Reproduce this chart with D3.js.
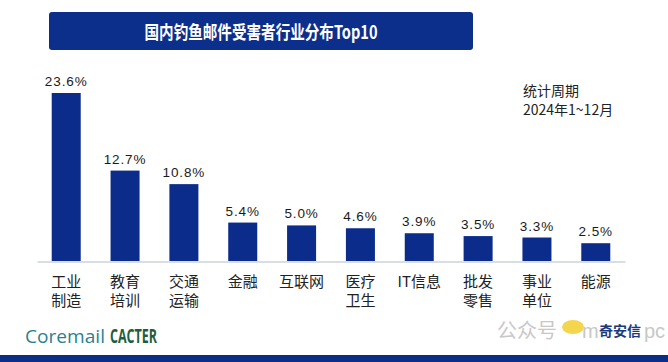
<!DOCTYPE html>
<html><head><meta charset="utf-8">
<script src="https://cdn.jsdelivr.net/npm/d3@7/dist/d3.min.js"></script>
<style>
body{margin:0;background:#fff;}
svg{display:block;}
</style></head>
<body>
<svg id="c" width="668" height="362"></svg>
<script>
const categories = [["工业","制造"],["教育","培训"],["交通","运输"],["金融"],["互联网"],["医疗","卫生"],["IT信息"],["批发","零售"],["事业","单位"],["能源"]];
const values = [23.6, 12.7, 10.8, 5.4, 5.0, 4.6, 3.9, 3.5, 3.3, 2.5];
const valueLabels = ["23.6%","12.7%","10.8%","5.4%","5.0%","4.6%","3.9%","3.5%","3.3%","2.5%"];
const titleText = "国内钓鱼邮件受害者行业分布Top10";
const noteLines = ["统计周期","2024年1~12月"];

const svg = d3.select("#c");
const cjk = "'Noto Sans CJK SC','Noto Sans',sans-serif";
const blue = "#0c2c8c";

// title bar
svg.append("rect").attr("x",49).attr("y",12).attr("width",424).attr("height",38).attr("rx",3).attr("fill","#0d2f8c");
svg.append("text").attr("transform","translate(261,38.5) scale(1,1.18)").attr("text-anchor","middle")
  .attr("fill","#fff").attr("font-family",cjk).attr("font-weight","bold").attr("font-size",15.5)
  .attr("textLength",233).attr("lengthAdjust","spacingAndGlyphs")
  .text(titleText);

const idx = values.map((d,i)=>i);
const x = d3.scaleBand().domain(idx).range([37,625]).paddingInner(0.507).paddingOuter(0.25);
const y = d3.scaleLinear().domain([0,23.6]).range([261,93]);

const g = svg.append("g");
g.selectAll("rect.bar").data(values).join("rect").attr("class","bar")
  .attr("x",(d,i)=>x(i)).attr("width",x.bandwidth())
  .attr("y",d=>y(d)).attr("height",d=>y(0)-y(d)).attr("fill",blue);

// axis line
const ax = g.append("g").attr("transform",`translate(0,${y(0)+0.5})`).call(d3.axisBottom(x).tickSize(0).tickFormat(""));
ax.select(".domain").attr("stroke","#b4bccb").attr("stroke-width",1.2);

g.selectAll("text.val").data(values).join("text").attr("class","val")
  .attr("x",(d,i)=>x(i)+x.bandwidth()/2).attr("y",d=>y(d)-7)
  .attr("text-anchor","middle").attr("font-family","'Liberation Sans',Arial,sans-serif").attr("font-size",13.5)
  .attr("letter-spacing",0.9).attr("fill","#1a1a1a").text((d,i)=>valueLabels[i]);

const cat = g.selectAll("text.cat").data(categories).join("text").attr("class","cat")
  .attr("text-anchor","middle").attr("font-family",cjk).attr("font-size",15).attr("fill","#222");
cat.each(function(lines,i){
  const t = d3.select(this);
  lines.forEach((l,j)=>{
    t.append("tspan").attr("x",x(i)+x.bandwidth()/2).attr("y",287+j*19).text(l);
  });
});

// note
svg.append("text").attr("x",523).attr("y",96).attr("font-family",cjk).attr("font-size",14).attr("fill","#222").text(noteLines[0]);
svg.append("text").attr("x",523).attr("y",114.5).attr("font-family",cjk).attr("font-size",14).attr("fill","#222").text(noteLines[1]);

// footer
svg.append("text").attr("x",25).attr("y",343).attr("font-family","'Open Sans',sans-serif").attr("font-size",19).attr("fill","#2b7f90")
  .attr("textLength",80).attr("lengthAdjust","spacingAndGlyphs").text("Coremail");
svg.append("text").attr("x",110).attr("y",343).attr("font-family","'Open Sans',sans-serif").attr("font-weight","bold").attr("font-size",19).attr("fill","#1d5d40")
  .attr("textLength",47).attr("lengthAdjust","spacingAndGlyphs").text("CACTER");
svg.append("text").attr("x",497).attr("y",338).attr("font-family",cjk).attr("font-size",20).attr("fill","#c8c8c8").text("公众号");
svg.append("ellipse").attr("cx",573).attr("cy",327).attr("rx",11).attr("ry",7).attr("fill","#f2d23a").attr("opacity",0.9);
svg.append("text").attr("x",582).attr("y",338).attr("font-family","'Liberation Sans',sans-serif").attr("font-size",20).attr("fill","#c8c8c8").text("m");
svg.append("text").attr("x",599).attr("y",336).attr("font-family",cjk).attr("font-weight","bold").attr("font-size",14).attr("fill","#1b3a7a").text("奇安信");
svg.append("text").attr("x",644).attr("y",338).attr("font-family","'Liberation Sans',sans-serif").attr("font-size",20).attr("fill","#c8c8c8").text("pc");
svg.append("rect").attr("x",0).attr("y",355).attr("width",668).attr("height",7).attr("fill","#0b2f85");
</script>
</body></html>
